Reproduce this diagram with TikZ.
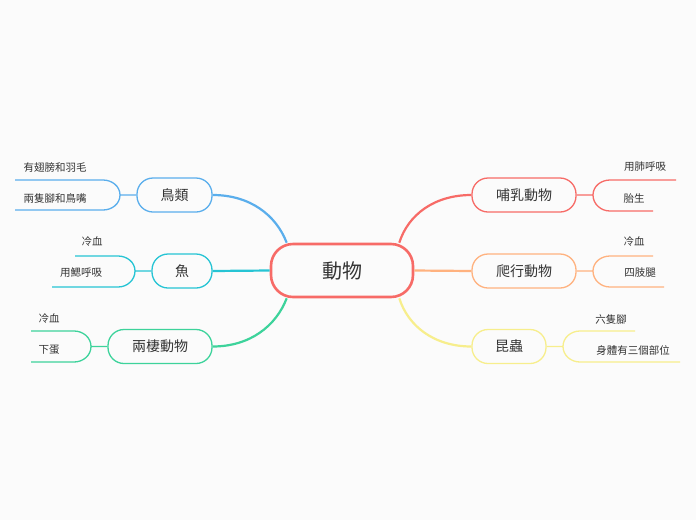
\documentclass[tikz,border=0pt]{standalone}
\usepackage{fontspec}
\setmainfont{Noto Sans CJK TC}
\definecolor{cred}{HTML}{F76B67}
\definecolor{cblue}{HTML}{5AAEEC}
\definecolor{ccyan}{HTML}{26C4D4}
\definecolor{cgreen}{HTML}{3DD39B}
\definecolor{corange}{HTML}{FFB27F}
\definecolor{cyel}{HTML}{F7EE8C}
\definecolor{txt}{HTML}{333333}
\begin{document}
\begin{tikzpicture}[x=1pt,y=-1pt,
  box/.style={draw,line width=1.3pt,rounded corners=16pt,minimum height=34pt,inner sep=0pt,font=\fontsize{14}{14}\selectfont,text=txt},
  leaf/.style={font=\fontsize{10.5}{11}\selectfont,text=txt,inner sep=0pt},
  br/.style={line width=1.3pt}]
\fill[fill={rgb,255:red,251;green,251;blue,251}] (0,0) rectangle (696,520);
\useasboundingbox (0,0) rectangle (696,520);
\node[box,draw=cred,line width=2.6pt,rounded corners=22pt,minimum width=142pt,minimum height=53pt,font=\fontsize{20}{20}\selectfont] (c) at (342,270.5) {動物};
% left
\node[box,draw=cblue,minimum width=75pt] (b) at (174.5,195) {鳥類};
\node[box,draw=ccyan,minimum width=60pt] (f) at (182,271) {魚};
\node[box,draw=cgreen,minimum width=104pt] (a) at (160,346.5) {兩棲動物};
\node[box,draw=cred,minimum width=104pt] (m) at (524,195) {哺乳動物};
\node[box,draw=corange,minimum width=104pt] (r) at (524,271) {爬行動物};
\node[box,draw=cyel,minimum width=74pt] (i) at (509,346.5) {昆蟲};
\draw[cblue,line width=2.2pt] (c.north west)++(17,0) .. controls (276,215) and (250,195) .. (b.east);
\draw[ccyan,line width=2.2pt] (c.west) -- (f.east);
\draw[cgreen,line width=2.2pt] (c.south west)++(17,0) .. controls (276,326) and (250,346.5) .. (a.east);
\draw[cred,line width=2.2pt] (c.north east)++(-15,0) .. controls (408,215) and (434,195) .. (m.west);
\draw[corange,line width=2.2pt] (c.east) -- (r.west);
\draw[cyel,line width=2.2pt] (c.south east)++(-15,0) .. controls (408,326) and (434,346.5) .. (i.west);
% brackets left
\draw[cblue,br] (b.west) -- (120,195) (15,180) -- (103,180) to[out=0,in=90] (120,195) to[out=-90,in=0] (103,210) -- (15,210);
\draw[ccyan,br] (f.west) -- (135,271) (75,256) -- (118,256) to[out=0,in=90] (135,271) to[out=-90,in=0] (118,287) -- (52,287);
\draw[cgreen,br] (a.west) -- (91,346.5) (31,331) -- (74,331) to[out=0,in=90] (91,346.5) to[out=-90,in=0] (74,362) -- (31,362);
\draw[cred,br] (m.east) -- (593,195) (676,180) -- (610,180) to[out=180,in=90] (593,195) to[out=-90,in=180] (610,211) -- (653,211);
\draw[corange,br] (r.east) -- (593,271) (653,256) -- (610,256) to[out=180,in=90] (593,271) to[out=-90,in=180] (610,287) -- (664,287);
\draw[cyel,br] (i.east) -- (563,346.5) (635,331) -- (580,331) to[out=180,in=90] (563,346.5) to[out=-90,in=180] (580,362) -- (680,362);
\node[leaf] (b1) at (55,167) {有翅膀和羽毛};
\node[leaf] (b2) at (55,198) {兩隻腳和鳥嘴};
\node[leaf] (f1) at (92,242) {冷血};
\node[leaf] (f2) at (81,273) {用鰓呼吸};
\node[leaf] (a1) at (49,319) {冷血};
\node[leaf] (a2) at (49,350) {下蛋};
\node[leaf] (m1) at (645,167) {用肺呼吸};
\node[leaf] (m2) at (634,198) {胎生};
\node[leaf] (r1) at (634,242) {冷血};
\node[leaf] (r2) at (640,273) {四肢腿};
\node[leaf] (i1) at (611,319) {六隻腳};
\node[leaf] (i2) at (633,350) {身體有三個部位};
\end{tikzpicture}
\end{document}
